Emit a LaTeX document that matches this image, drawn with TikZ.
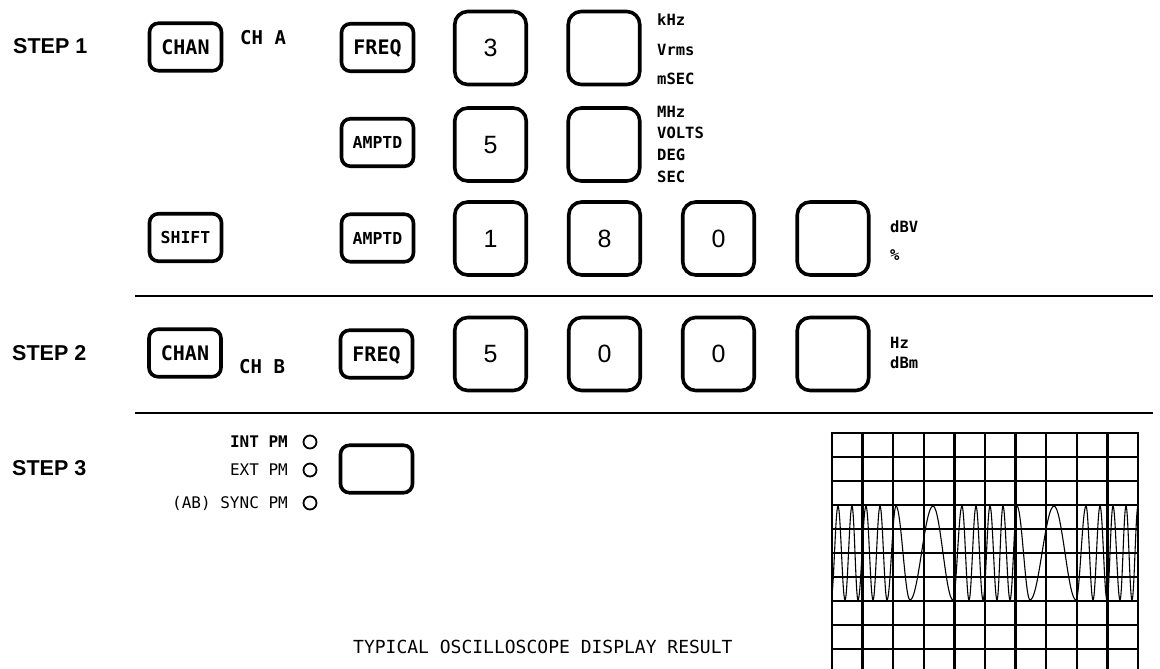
\documentclass[tikz,border=0pt]{standalone}
\usepackage{fontspec}
\setmainfont{Liberation Sans}
\newfontfamily\plotfont{DejaVu Sans Mono}
\tikzset{
  keybox/.style={draw, line width=3.6pt, inner sep=0pt},
  smallkey/.style={keybox, rounded corners=9pt, minimum width=72pt, minimum height=47.5pt,
    font=\plotfont\bfseries\fontsize{20}{20}\selectfont, text height=14.6pt, text depth=0pt},
  tinykey/.style={smallkey, font=\plotfont\bfseries\fontsize{16.5}{16.5}\selectfont, text height=12pt},
  bigkey/.style={keybox, rounded corners=13pt, minimum width=71.5pt, minimum height=73pt,
    font=\fontsize{25}{25}\selectfont, text height=17.9pt, text depth=0pt},
  steplabel/.style={anchor=west, inner sep=0pt, font=\bfseries\fontsize{21.5}{21.5}\selectfont,
    text height=15.4pt, text depth=0pt},
  chlabel/.style={anchor=west, inner sep=0pt, font=\plotfont\bfseries\fontsize{19}{19}\selectfont,
    text height=13.9pt, text depth=0pt},
  unitlabel/.style={anchor=west, inner sep=0pt, font=\plotfont\bfseries\fontsize{15.5}{15.5}\selectfont,
    text height=11.3pt, text depth=0pt},
  pmlabel/.style={anchor=east, inner sep=0pt, font=\plotfont\fontsize{16}{16}\selectfont,
    text height=11.7pt, text depth=0pt},
  lamp/.style={draw, circle, line width=1.8pt, minimum size=13pt, inner sep=0pt},
  sepline/.style={line width=2pt},
  scopegrid/.style={line width=2.3pt},
  wave/.style={line width=1.1pt, line cap=round},
  caption/.style={anchor=west, inner sep=0pt, font=\plotfont\fontsize{18}{18}\selectfont,
    text height=13.1pt, text depth=0pt},
}
\begin{document}
\begin{tikzpicture}[x=1pt,y=-1pt]
\useasboundingbox (0,0) rectangle (1160,669);

% step labels
\node[steplabel] (step1) at (13,46) {STEP 1};
\node[steplabel] (step2) at (12,353) {STEP 2};
\node[steplabel] (step3) at (12,468) {STEP 3};

% step 1
\node[smallkey] (chan1) at (185.5,47) {CHAN};
\node[chlabel] (cha) at (240,37.5) {CH A};
\node[smallkey] (freq1) at (377.5,47.5) {FREQ};
\node[bigkey] (k3) at (490.5,48) {3};
\node[bigkey] (b1) at (604,48) {};
\node[unitlabel] (u1) at (657,20) {kHz};
\node[unitlabel] (u2) at (657,50) {Vrms};
\node[unitlabel] (u3) at (657,79) {mSEC};

\node[tinykey] (amptd1) at (377.5,142.5) {AMPTD};
\node[bigkey] (k5) at (490.5,144.5) {5};
\node[bigkey] (b2) at (604,144.5) {};
\node[unitlabel] (u4) at (657,112) {MHz};
\node[unitlabel] (u5) at (657,133) {VOLTS};
\node[unitlabel] (u6) at (657,155) {DEG};
\node[unitlabel] (u7) at (657,177) {SEC};

\node[tinykey] (shift) at (185.5,237.5) {SHIFT};
\node[tinykey] (amptd2) at (377.5,238) {AMPTD};
\node[bigkey] (k1) at (490.5,238.5) {1};
\node[bigkey] (k8) at (604.5,238.5) {8};
\node[bigkey] (k0a) at (718.5,238.5) {0};
\node[bigkey] (b3) at (833,238.5) {};
\node[unitlabel] (u8) at (890,227) {dBV};
\node[unitlabel] (u9) at (890,255) {\%};

\draw[sepline] (135,296) -- (1153,296);

% step 2
\node[smallkey] (chan2) at (185,353) {CHAN};
\node[chlabel] (chb) at (239,367) {CH B};
\node[smallkey] (freq2) at (376.5,354) {FREQ};
\node[bigkey] (k5b) at (490.5,354) {5};
\node[bigkey] (k0b) at (604.5,354) {0};
\node[bigkey] (k0c) at (718.5,354) {0};
\node[bigkey] (b4) at (833,354) {};
\node[unitlabel] (u10) at (890,343) {Hz};
\node[unitlabel] (u11) at (890,363) {dBm};

\draw[sepline] (135,413) -- (1153,413);

% step 3
\node[pmlabel, font=\plotfont\bfseries\fontsize{16}{16}\selectfont] (intpm) at (288,442) {INT PM};
\node[pmlabel] (extpm) at (288,470) {EXT PM};
\node[pmlabel] (syncpm) at (288,503) {(AB) SYNC PM};
\node[lamp] (l1) at (310,442) {};
\node[lamp] (l2) at (310,470) {};
\node[lamp] (l3) at (310,503) {};
\node[smallkey] (b5) at (376.5,469) {};

% oscilloscope display
\foreach \k in {0,...,10} {
  \draw[scopegrid] ({832+30.6*\k},433) -- ({832+30.6*\k},669);
}
\foreach \j in {0,...,9} {
  \draw[scopegrid] (831,{433+24*\j}) -- (1139,{433+24*\j});
}
\begin{scope}
\clip (832,433) rectangle (1138,669);
\foreach \x [remember=\x as \px (initially 831), count=\i] in
  {838,845,852,858,866,873,880,887,896,910,933,953,962,969,976,983,990,997,1003,1010,1017,1030,1054,1076,1086,1093,1100,1107,1113,1120,1126,1132,1138,1144} {
  \pgfmathsetmacro{\ya}{isodd(\i) ? 600 : 506}
  \pgfmathsetmacro{\yb}{isodd(\i) ? 506 : 600}
  \draw[wave] (\px,\ya) cos ({(\px+\x)/2},553) sin (\x,\yb);
}
\end{scope}

\node[caption] (cap) at (353,647) {TYPICAL OSCILLOSCOPE DISPLAY RESULT};
\end{tikzpicture}
\end{document}
